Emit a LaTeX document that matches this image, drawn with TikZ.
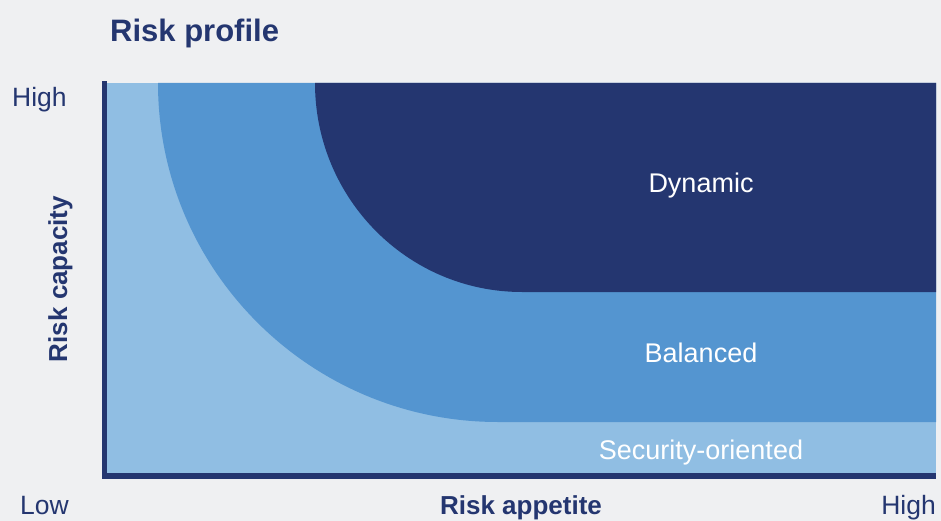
\documentclass[tikz,border=0pt]{standalone}
\usepackage{fontspec}
\setmainfont{Liberation Sans}
\definecolor{bgc}{HTML}{EFF0F2}
\definecolor{navy}{HTML}{243670}
\definecolor{midblue}{HTML}{5495D0}
\definecolor{lightblue}{HTML}{90BEE3}
\tikzset{
  axislabel/.style={text=navy, font=\fontsize{26}{30}\selectfont\bfseries, inner sep=0pt},
  ticklabel/.style={text=navy, font=\fontsize{26.5}{30}\selectfont, inner sep=0pt},
  zonelabel/.style={text=white, font=\fontsize{27}{30}\selectfont, inner sep=0pt, anchor=base},
}
\begin{document}
\begin{tikzpicture}[x=1pt,y=-1pt]
\useasboundingbox (0,0) rectangle (941,521);
\fill[bgc] (0,0) rectangle (941,521);
% zones
\fill[lightblue] (107,83) rectangle (936,473);
\fill[midblue] (158,83) arc[start angle=180, end angle=270, x radius=340, y radius=-339] -- (936,422) -- (936,83) -- cycle;
\fill[navy] (315,83) arc[start angle=180, end angle=270, x radius=207, y radius=-209] -- (936,292) -- (936,83) -- cycle;
% axes
\fill[navy] (102,81) rectangle (107,479);
\fill[navy] (102,473) rectangle (936,479);
% texts
\node[text=navy, font=\fontsize{31}{36}\selectfont\bfseries, inner sep=0pt, anchor=base west] (title) at (110,42) {Risk profile};
\node[ticklabel, anchor=base west] (yhigh) at (12,107) {High};
\node[ticklabel, anchor=base west] (xlow) at (20,514) {Low};
\node[ticklabel, anchor=base east] (xhigh) at (936,514) {High};
\node[axislabel, anchor=base] (xlab) at (521,514) {Risk appetite};
\node[axislabel, anchor=base, rotate=90] (ylab) at (67,279) {Risk capacity};
\node[zonelabel] (dyn) at (701,193) {Dynamic};
\node[zonelabel] (bal) at (701,362) {Balanced};
\node[zonelabel] (sec) at (701,459) {Security-oriented};
\end{tikzpicture}
\end{document}
